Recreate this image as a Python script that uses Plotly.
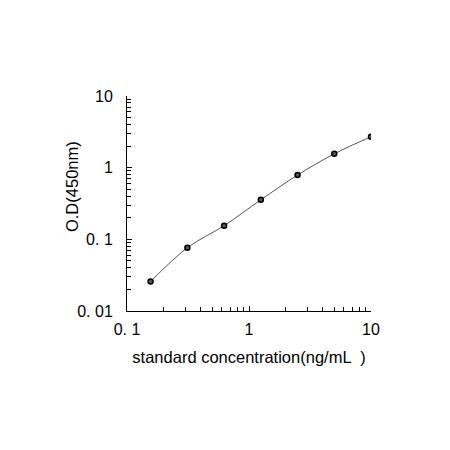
import plotly.graph_objects as go

conc = [0.156, 0.3125, 0.625, 1.25, 2.5, 5, 10]
od = [0.0257, 0.0764, 0.155, 0.356, 0.789, 1.56, 2.70]

x_tickvals = [0.1, 1, 10]
x_ticktext = ["0. 1", "1", "10"]
y_tickvals = [0.01, 0.1, 1, 10]
y_ticktext = ["0. 01", "0. 1", "1", "10"]

fig = go.Figure()
fig.add_trace(go.Scatter(
    x=conc, y=od, mode="lines+markers",
    line=dict(color="#555555", width=1, shape="spline"),
    marker=dict(symbol="circle", size=5, color="#555555", line=dict(color="black", width=1.5)),
    showlegend=False,
))

font = "Liberation Sans, Arial, sans-serif"
fig.update_layout(
    width=450, height=450,
    margin=dict(l=127, r=79, t=96, b=139),
    paper_bgcolor="white", plot_bgcolor="white",
    font=dict(family=font, size=16, color="black"),
)
fig.update_xaxes(
    type="log", range=[-1, 1],
    tickvals=x_tickvals, ticktext=x_ticktext,
    ticks="inside", ticklen=5, tickcolor="black",
    minor=dict(ticks="inside", ticklen=4, tickcolor="black", dtick="D1", showgrid=False),
    showline=True, linecolor="black", linewidth=1,
    showgrid=False, zeroline=False,
    ticklabelstandoff=4,
    title=dict(text="standard concentration(ng/mL  )", font=dict(size=16.5), standoff=14),
)
fig.update_yaxes(
    type="log", range=[-2, 1],
    tickvals=y_tickvals, ticktext=y_ticktext,
    ticks="inside", ticklen=5, tickcolor="black",
    minor=dict(ticks="inside", ticklen=4, tickcolor="black", dtick="D1", showgrid=False),
    showline=True, linecolor="black", linewidth=1,
    showgrid=False, zeroline=False,
    ticklabelstandoff=10,
)
fig.add_annotation(
    text="O.D(450nm)", textangle=-90, showarrow=False,
    xref="paper", yref="paper", x=-0.225, y=0.577,
    xanchor="center", yanchor="middle",
    font=dict(size=16.5),
)
fig.write_html("out.html")
